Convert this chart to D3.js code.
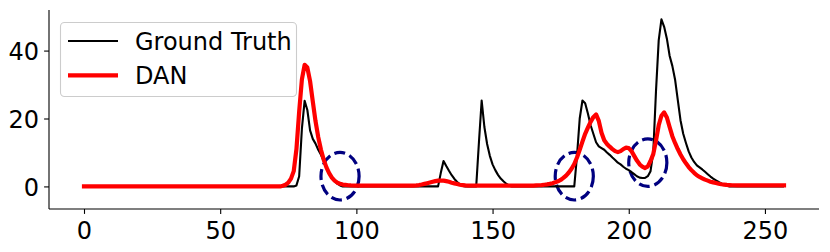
<!DOCTYPE html>
<html>
<head>
<meta charset="utf-8">
<script src="https://cdn.jsdelivr.net/npm/d3@7"></script>
<style>
  html, body { margin: 0; padding: 0; background: #fff; }
  svg { display: block; font-family: "DejaVu Sans", sans-serif; }
</style>
</head>
<body>
<svg id="chart" width="830" height="252"></svg>
<script>
// ---- data ----
const gtIndex = [0, 77, 78, 79, 80, 81, 82, 83, 84, 85, 86, 87, 88, 89, 90, 91, 92, 93, 94, 95,
  130, 131, 132, 133, 134, 135, 136, 137, 138, 139, 140,
  144, 145, 146, 147, 148, 149, 150, 151, 152, 153, 154, 155, 156, 157,
  180, 181, 182, 183, 184, 185, 186, 187, 188, 189, 190, 191, 192, 193, 194, 195, 196, 197, 198, 199,
  200, 201, 202, 203, 204, 205, 206, 207, 208, 209, 210, 211, 212, 213, 214, 215, 216, 217, 218, 219,
  220, 221, 222, 223, 224, 225, 226, 227, 228, 229, 230, 231, 232, 233, 234, 235, 236, 237, 257];
const gtValue = [0, 0, 0.3, 3, 17, 25.2, 22.5, 16.5, 14, 12.6, 10.8, 9.3, 7.5, 5.5, 3.8, 2.5, 1.5, 0.8, 0.3, 0,
  0, 4, 7.5, 6, 4.6, 3.3, 2.2, 1.3, 0.6, 0.1, 0,
  0, 13, 25.3, 17.5, 12.5, 9, 6.5, 4.8, 3.4, 2.3, 1.5, 0.8, 0.3, 0,
  0, 9, 20, 25.3, 24.5, 21.5, 18, 15.5, 13, 11.8, 11.3, 10.8, 10, 9.3, 8.5, 7.8, 7, 6.5, 5.8, 5.2,
  4.8, 4.2, 3.6, 3, 2.6, 2.5, 2.5, 3, 4.5, 10, 28, 43, 49.2, 47, 43.5, 38.5, 35.5, 31.5, 25.5, 19.5,
  15.5, 12.8, 10.3, 8.5, 7.2, 6.2, 5.6, 5, 4.3, 3.6, 2.9, 2.3, 1.8, 1.3, 0.9, 0.5, 0.2, 0, 0];

const danIndex = [0, 72, 73, 74, 75, 76, 77, 78, 79, 80, 81, 82, 83, 84, 85, 86, 87, 88, 89, 90,
  91, 92, 93, 94, 95, 96, 97, 98, 100, 121, 122, 123, 124, 125, 126, 127, 128, 129, 130,
  131, 132, 133, 134, 135, 136, 137, 138, 139, 140, 141, 165, 166, 167, 168, 169, 170,
  171, 172, 173, 174, 175, 176, 177, 178, 179, 180, 181, 182, 183, 184, 185, 186, 187, 188, 189, 190,
  191, 192, 193, 194, 195, 196, 197, 198, 199, 200, 201, 202, 203, 204, 205, 206, 207, 208, 209, 210,
  211, 212, 213, 214, 215, 216, 217, 218, 219, 220, 221, 222, 223, 224, 225, 226, 227, 228, 229, 230,
  231, 232, 233, 234, 235, 236, 237, 238, 240, 257];
const danValue = [0, 0, 0.2, 0.5, 1.1, 2.3, 4.5, 11, 22, 31.5, 35.8, 35, 31, 25, 19.2, 14.5, 10.8, 7.9, 5.6, 3.9,
  2.6, 1.7, 1.1, 0.8, 0.55, 0.45, 0.35, 0.3, 0.25, 0.25, 0.3, 0.4, 0.55, 0.75, 0.95, 1.15, 1.35, 1.55, 1.7,
  1.75, 1.7, 1.55, 1.35, 1.1, 0.9, 0.7, 0.5, 0.4, 0.3, 0.25, 0.25, 0.3, 0.35, 0.4, 0.5, 0.6,
  0.75, 0.95, 1.2, 1.5, 1.9, 2.5, 3.2, 4.1, 5.2, 6.6, 8.5, 10.8, 13.2, 15.5, 17.3, 19, 20.4, 21.2, 19.3, 15.8,
  13.6, 12.5, 11.7, 11, 10.4, 10.1, 10.4, 11, 11.4, 11.3, 10.4, 9, 7.6, 6.5, 5.8, 5.4, 5.9, 7.5, 9.5, 13.5,
  18, 20.8, 21.8, 20.3, 17.5, 14.8, 12.8, 11, 9.4, 8, 6.8, 5.7, 4.8, 4, 3.3, 2.8, 2.4, 2.0, 1.7, 1.4,
  1.2, 1.0, 0.8, 0.65, 0.55, 0.45, 0.4, 0.35, 0.3, 0.3];

const circleX = [94, 180, 207];
const circleY = [3, 3, 7];
const circleR = 7;

const xTicks = [0, 50, 100, 150, 200, 250];
const yTicks = [0, 20, 40];
const seriesNames = ["Ground Truth", "DAN"];
const seriesColors = ["#000000", "#ff0000"];

// ---- chart ----
const FS = 24;
const svg = d3.select("#chart");
const x = d3.scaleLinear().domain([-12.85, 269.85]).range([49, 819]);
const y = d3.scaleLinear().domain([-6.65, 51.95]).range([209, 10]);

// circles (patches, below lines)
svg.append("g").selectAll("ellipse")
  .data(circleX.map((cx, i) => ({ cx, cy: circleY[i] })))
  .join("ellipse")
  .attr("cx", d => x(d.cx))
  .attr("cy", d => y(d.cy))
  .attr("rx", d => x(d.cx + circleR) - x(d.cx))
  .attr("ry", d => y(d.cy - circleR) - y(d.cy))
  .attr("fill", "none")
  .attr("stroke", "#000080")
  .attr("stroke-width", 3.2)
  .attr("stroke-dasharray", "11,4.8");

const line = d3.line().x(d => x(d[0])).y(d => y(d[1]));
const gtData = gtIndex.map((v, i) => [v, gtValue[i]]);
const danData = danIndex.map((v, i) => [v, danValue[i]]);

svg.append("path").datum(gtData)
  .attr("d", line).attr("fill", "none")
  .attr("stroke", seriesColors[0]).attr("stroke-width", 2.1)
  .attr("stroke-linejoin", "round");
svg.append("path").datum(danData)
  .attr("d", line).attr("fill", "none")
  .attr("stroke", seriesColors[1]).attr("stroke-width", 4.2)
  .attr("stroke-linejoin", "round").attr("stroke-linecap", "square");

// axes
const xAxis = svg.append("g").attr("transform", "translate(0,209)")
  .call(d3.axisBottom(x).tickValues(xTicks).tickSize(4.9).tickPadding(5).tickFormat(d3.format("d")));
const yAxis = svg.append("g").attr("transform", "translate(49,0)")
  .call(d3.axisLeft(y).tickValues(yTicks).tickSize(4.9).tickPadding(5).tickFormat(d3.format("d")));
[xAxis, yAxis].forEach(g => {
  g.selectAll(".domain").attr("stroke", "#000").attr("stroke-width", 1.1);
  g.selectAll(".tick line").attr("stroke", "#000").attr("stroke-width", 1.1);
  g.selectAll("text").attr("font-family", "DejaVu Sans").attr("font-size", FS).attr("fill", "#000");
});
xAxis.select(".domain").attr("d", "M49,0H819");
yAxis.select(".domain").attr("d", "M0,10V209");
xAxis.selectAll(".tick text").attr("dy", null).attr("y", 29.5);
yAxis.selectAll(".tick text").attr("dy", "0.36em");

// legend
const lg = svg.append("g");
lg.append("rect").attr("x", 60.5).attr("y", 22.5).attr("width", 236).attr("height", 74)
  .attr("rx", 4).attr("ry", 4)
  .attr("fill", "#fff").attr("fill-opacity", 0.8)
  .attr("stroke", "#cccccc").attr("stroke-width", 1.1);
const rowsY = [41, 75.3];
seriesNames.forEach((name, i) => {
  lg.append("line").attr("x1", 68).attr("x2", 118)
    .attr("y1", rowsY[i]).attr("y2", rowsY[i])
    .attr("stroke", seriesColors[i]).attr("stroke-width", i === 0 ? 2.1 : 4.2);
  lg.append("text").attr("x", 135).attr("y", rowsY[i] + 8.7)
    .attr("font-size", FS).attr("fill", "#000").text(name);
});
</script>
</body>
</html>
